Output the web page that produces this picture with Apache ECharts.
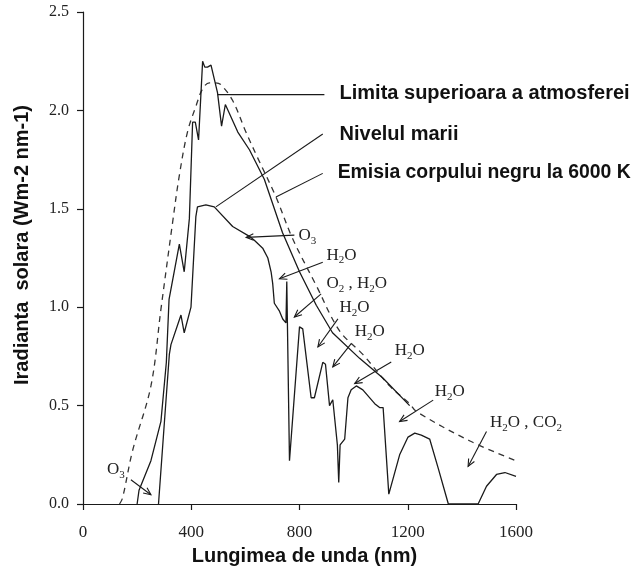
<!DOCTYPE html>
<html>
<head>
<meta charset="utf-8">
<script src="https://cdn.jsdelivr.net/npm/echarts@6/dist/echarts.min.js"></script>
<style>
  html, body { margin: 0; padding: 0; background: #fff; }
  #chart { width: 634px; height: 571px; }
</style>
</head>
<body>
<div id="chart"></div>
<script>
// Solar spectral irradiance (W m-2 nm-1) versus wavelength (nm)

// Top of the atmosphere
const toaNm  = [200, 207, 251, 288, 308, 318, 356, 374, 393, 405, 415, 427, 442, 450, 460, 473, 497, 512, 526, 572, 615, 670, 737, 800, 862, 922, 1022, 1108, 1207];
const toaVal = [0, 0.07, 0.22, 0.42, 0.72, 1.04, 1.32, 1.18, 1.45, 1.94, 1.94, 1.85, 2.25, 2.22, 2.22, 2.23, 2.09, 1.92, 2.03, 1.89, 1.80, 1.65, 1.38, 1.18, 1.01, 0.87, 0.74, 0.64, 0.50];

// Sea level
const seaNm  = [279, 300, 319, 325, 362, 374, 399, 417, 423, 454, 485, 553, 615, 633, 664, 683, 695, 701, 707, 726, 738, 750, 753, 757, 763, 800, 812, 843, 855, 886, 896, 911, 923, 940, 945, 950, 967, 979, 991, 1010, 1034, 1078, 1096, 1109, 1130, 1170, 1201, 1226, 1250, 1281, 1313, 1350, 1460, 1491, 1528, 1559, 1600];
const seaVal = [0, 0.40, 0.76, 0.81, 0.96, 0.87, 1.00, 1.46, 1.51, 1.52, 1.51, 1.41, 1.36, 1.34, 1.30, 1.25, 1.18, 1.12, 1.02, 0.98, 0.94, 0.92, 1.13, 1.13, 0.22, 0.90, 0.89, 0.54, 0.54, 0.72, 0.71, 0.50, 0.53, 0.30, 0.11, 0.30, 0.33, 0.54, 0.58, 0.60, 0.58, 0.51, 0.49, 0.49, 0.05, 0.25, 0.34, 0.36, 0.35, 0.33, 0.18, 0, 0, 0.09, 0.15, 0.16, 0.14];

// Black body emission at 6000 K
const bbNm  = [135, 146, 183, 251, 288, 331, 356, 386, 417, 442, 467, 490, 510, 553, 602, 645, 713, 774, 862, 948, 1034, 1133, 1207, 1232, 1430, 1600];
const bbVal = [0, 0.03, 0.27, 0.60, 0.99, 1.43, 1.67, 1.89, 2.02, 2.11, 2.14, 2.14, 2.13, 2.05, 1.89, 1.76, 1.56, 1.35, 1.11, 0.88, 0.76, 0.60, 0.51, 0.47, 0.32, 0.22];

// Curve names and the points their leader lines start from / end at
const curveNames    = ['Limita superioara a atmosferei', 'Nivelul marii', 'Emisia corpului negru la 6000 K'];
const curveLeadFrom = [[497, 2.08], [491, 1.51], [713, 1.56]];
const curveLeadTo   = [[892, 2.08], [886, 1.88], [886, 1.68]];
const curveNameAt   = [[948, 2.085], [948, 1.88], [941, 1.685]];

// Absorption bands: label, arrow tail, arrow head, label anchor
const bandLabels = ['O3', 'H2O', 'O2 , H2O', 'H2O', 'H2O', 'H2O', 'H2O', 'H2O , CO2', 'O3'];
const bandTail = [[781, 1.366], [886, 1.228], [880, 1.068], [942, 0.941], [991, 0.815], [1139, 0.722], [1294, 0.528], [1491, 0.368], [177, 0.123]];
const bandHead = [[603, 1.355], [726, 1.144], [781, 0.95], [868, 0.798], [923, 0.697], [1004, 0.612], [1170, 0.419], [1423, 0.191], [251, 0.047]];
const bandAt   = [[796, 1.366], [900, 1.265], [900, 1.118], [948, 0.997], [1004, 0.876], [1152, 0.779], [1300, 0.572], [1504, 0.415], [89, 0.177]];

const SERIF = '"Liberation Serif", "Times New Roman", serif';
const SANS = '"Liberation Sans", Arial, sans-serif';
const INK = '#1a1a1a';

const pair = (xs, ys) => xs.map((x, i) => [x, ys[i]]);

const chart = echarts.init(document.getElementById('chart'));

chart.setOption({
  animation: false,
  backgroundColor: '#fff',
  grid: { left: 83, right: 118, top: 12, bottom: 65 },
  xAxis: {
    type: 'value', min: 0, max: 1600, interval: 400,
    axisLine: { lineStyle: { color: INK, width: 1.2 } },
    axisTick: { length: 6, lineStyle: { color: INK, width: 1.2 } },
    axisLabel: { color: '#222', fontFamily: SERIF, fontSize: 17, margin: 20, formatter: v => String(v) },
    splitLine: { show: false },
    name: 'Lungimea de unda (nm)', nameLocation: 'middle', nameGap: 42,
    nameTextStyle: { fontFamily: SANS, fontWeight: 'bold', fontSize: 20, color: '#111', padding: [0, 0, 0, 10] }
  },
  yAxis: {
    type: 'value', min: 0, max: 2.5, interval: 0.5,
    axisLine: { lineStyle: { color: INK, width: 1.2 } },
    axisTick: { length: 6, lineStyle: { color: INK, width: 1.2 } },
    axisLabel: { color: '#222', fontFamily: SERIF, fontSize: 16, margin: 14, formatter: v => v.toFixed(1) },
    splitLine: { show: false },
    name: 'Iradianta  solara (Wm-2 nm-1)', nameLocation: 'middle', nameGap: 51, nameRotate: 90,
    nameTextStyle: { fontFamily: SANS, fontWeight: 'bold', fontSize: 20, color: '#111', padding: [0, 0, 0, 26] }
  },
  series: [
    {
      name: curveNames[0], type: 'line', data: pair(toaNm, toaVal),
      showSymbol: false, lineStyle: { color: INK, width: 1.3 }, z: 3
    },
    {
      name: curveNames[1], type: 'line', data: pair(seaNm, seaVal),
      showSymbol: false, lineStyle: { color: INK, width: 1.3 }, z: 3
    },
    {
      name: curveNames[2], type: 'line', data: pair(bbNm, bbVal), smooth: 0.35,
      showSymbol: false, lineStyle: { color: '#333', width: 1.3, type: [6, 5] }, z: 2
    }
  ]
});

// Annotations placed through the grid's own coordinate conversion
const toPx = p => chart.convertToPixel({ gridIndex: 0 }, p);

function richLabel(s) {
  return s.replace(/(\d)|([^\d]+)/g, (m, d, t) => d ? '{s|' + d + '}' : '{n|' + t + '}');
}

const nameSizes = [20, 20, 19.4];
const graphics = [];

curveNames.forEach((name, i) => {
  const a = toPx(curveLeadFrom[i]);
  const b = toPx(curveLeadTo[i]);
  const t = toPx(curveNameAt[i]);
  graphics.push({
    type: 'line', shape: { x1: a[0], y1: a[1], x2: b[0], y2: b[1] },
    style: { stroke: INK, lineWidth: 1.1 }, silent: true
  });
  graphics.push({
    type: 'text', x: t[0], y: t[1], silent: true,
    style: { text: name, fill: '#111', fontFamily: SANS, fontWeight: 'bold', fontSize: nameSizes[i], align: 'left', verticalAlign: 'middle' }
  });
});

bandLabels.forEach((label, i) => {
  const tail = toPx(bandTail[i]);
  const head = toPx(bandHead[i]);
  const at = toPx(bandAt[i]);
  const ang = Math.atan2(tail[1] - head[1], tail[0] - head[0]);
  const len = 8, spread = 0.42;
  const w1 = [head[0] + len * Math.cos(ang + spread), head[1] + len * Math.sin(ang + spread)];
  const w2 = [head[0] + len * Math.cos(ang - spread), head[1] + len * Math.sin(ang - spread)];
  graphics.push({
    type: 'line', shape: { x1: tail[0], y1: tail[1], x2: head[0], y2: head[1] },
    style: { stroke: INK, lineWidth: 1.1 }, silent: true
  });
  graphics.push({
    type: 'polyline', shape: { points: [w1, head, w2] },
    style: { stroke: INK, lineWidth: 1.1, fill: null }, silent: true
  });
  graphics.push({
    type: 'text', x: at[0], y: at[1], silent: true,
    style: {
      text: richLabel(label), align: 'left', verticalAlign: 'middle',
      rich: {
        n: { fontFamily: SERIF, fontSize: 17, fill: '#222', lineHeight: 22, verticalAlign: 'middle' },
        s: { fontFamily: SERIF, fontSize: 11, fill: '#222', lineHeight: 12, verticalAlign: 'bottom' }
      }
    }
  });
});

chart.setOption({ graphic: graphics });
</script>
</body>
</html>
